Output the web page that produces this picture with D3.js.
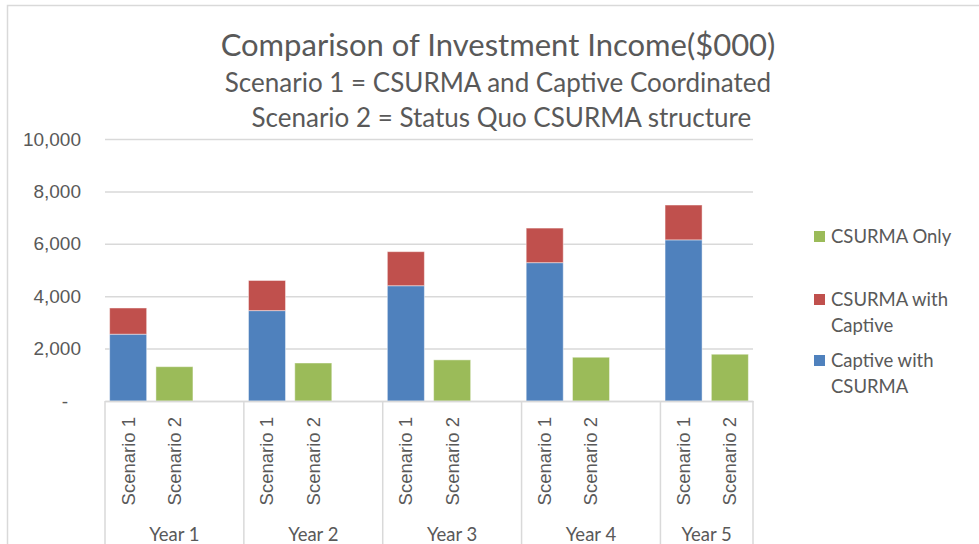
<!DOCTYPE html>
<html>
<head>
<meta charset="utf-8">
<script src="https://cdn.jsdelivr.net/npm/d3@7"></script>
<style>
  body { margin: 0; background: #fff; }
  svg { font-family: Lato, "Open Sans", sans-serif; }
</style>
</head>
<body>
<svg id="chart" width="979" height="544"></svg>
<script>
// values in $000
var years = ["Year 1", "Year 2", "Year 3", "Year 4", "Year 5"];
var scenarios = ["Scenario 1", "Scenario 2"];
var captiveWithCsurma = [2550, 3450, 4400, 5280, 6150];
var csurmaWithCaptive = [1000, 1150, 1300, 1320, 1330];
var csurmaOnly = [1310, 1450, 1570, 1670, 1785];
var yTicks = [0, 2000, 4000, 6000, 8000, 10000];

var titleLines = [
  "Comparison of Investment Income($000)",
  "Scenario 1 = CSURMA and Captive Coordinated",
  " Scenario 2 = Status Quo CSURMA structure"
];
var legendItems = [
  {name: ["CSURMA Only"], color: "#9BBB59"},
  {name: ["CSURMA with", "Captive"], color: "#C0504D"},
  {name: ["Captive with", "CSURMA"], color: "#4F81BD"}
];

var svg = d3.select("#chart");
var textColor = "#595959";
var gridColor = "#d9d9d9";

// chart area border (cut off right and bottom)
svg.append("path")
  .attr("d", "M7.5,544 V5.5 H979")
  .attr("fill", "none")
  .attr("stroke", gridColor)
  .attr("stroke-width", 1.5);

// slot keys: each year gets two scenarios and an empty slot, except the last
var slots = [];
years.forEach(function(yr, i){
  scenarios.forEach(function(sc){ slots.push(yr + "|" + sc); });
  if (i < years.length - 1) slots.push(yr + "|");
});

var x = d3.scaleBand()
  .domain(slots)
  .range([105, 753])
  .paddingInner(0.2)
  .paddingOuter(0.1);

var y = d3.scaleLinear()
  .domain([0, 10000])
  .range([401, 139]);

// gridlines + y labels
var yAxis = svg.append("g")
  .attr("transform", "translate(105,0)")
  .call(d3.axisLeft(y)
    .tickValues(yTicks)
    .tickSize(-648)
    .tickPadding(24)
    .tickFormat(function(d){ return d == 0 ? "-" : d3.format(",")(d); }));
yAxis.select(".domain").remove();
yAxis.selectAll(".tick line")
  .attr("stroke", gridColor)
  .attr("stroke-width", 1.5);
yAxis.selectAll(".tick text")
  .attr("fill", textColor)
  .style("font-size", "19px");
yAxis.selectAll(".tick")
  .filter(function(d){ return d == 0; })
  .select("text").attr("dx", -13);

// bars
var stacked = [];
years.forEach(function(yr, i){
  stacked.push({key: yr + "|Scenario 1", y0: 0, y1: captiveWithCsurma[i], color: "#4F81BD"});
  stacked.push({key: yr + "|Scenario 1", y0: captiveWithCsurma[i], y1: captiveWithCsurma[i] + csurmaWithCaptive[i], color: "#C0504D"});
  stacked.push({key: yr + "|Scenario 2", y0: 0, y1: csurmaOnly[i], color: "#9BBB59"});
});

svg.append("g").selectAll("rect")
  .data(stacked)
  .enter()
  .append("rect")
    .attr("x", function(d){ return x(d.key); })
    .attr("width", x.bandwidth())
    .attr("y", function(d){ return y(d.y1); })
    .attr("height", function(d){ return y(d.y0) - y(d.y1); })
    .attr("fill", function(d){ return d.color; })
    .attr("stroke", "#ffffff")
    .attr("stroke-opacity", 0.45)
    .attr("stroke-width", 1);

// category axis
var xAxis = svg.append("g")
  .attr("transform", "translate(0,401)")
  .call(d3.axisBottom(x)
    .tickSize(0)
    .tickFormat(function(d){ return d.split("|")[1]; }));
xAxis.select(".domain")
  .attr("stroke", gridColor)
  .attr("stroke-width", 1.5);
xAxis.selectAll(".tick text")
  .attr("fill", textColor)
  .style("font-size", "18.5px")
  .attr("transform", "rotate(-90)")
  .attr("text-anchor", "end")
  .attr("x", -16)
  .attr("y", 0)
  .attr("dy", "0.35em");

// group separators and year labels
var bounds = [105];
years.forEach(function(yr){
  var end = x(yr + "|") != undefined ? x(yr + "|") + x.bandwidth() + x.step() * x.paddingInner() / 2 : 753;
  bounds.push(end);
});

svg.append("g").selectAll("line")
  .data(bounds)
  .enter()
  .append("line")
    .attr("x1", function(d){ return d; })
    .attr("x2", function(d){ return d; })
    .attr("y1", 401)
    .attr("y2", 544)
    .attr("stroke", gridColor)
    .attr("stroke-width", 1.5);

svg.append("g").selectAll("text")
  .data(years)
  .enter()
  .append("text")
    .attr("x", function(d, i){ return (bounds[i] + bounds[i + 1]) / 2; })
    .attr("y", 541)
    .attr("text-anchor", "middle")
    .attr("fill", textColor)
    .style("font-size", "18.5px")
    .text(function(d){ return d; });

// title
svg.append("text")
  .attr("x", 498)
  .attr("y", 56)
  .attr("text-anchor", "middle")
  .attr("fill", textColor)
  .style("font-size", "31px")
  .text(titleLines[0]);

svg.selectAll(".subtitle")
  .data(titleLines.slice(1))
  .enter()
  .append("text")
    .attr("class", "subtitle")
    .attr("x", 498)
    .attr("y", function(d, i){ return 92 + i * 35; })
    .attr("text-anchor", "middle")
    .attr("fill", textColor)
    .style("font-size", "26px")
    .style("white-space", "pre")
    .text(function(d){ return d; });

// legend
var legendY = [237, 300, 361];
var legend = svg.append("g");
legendItems.forEach(function(item, i){
  var g = legend.append("g").attr("transform", "translate(814," + legendY[i] + ")");
  g.append("rect")
    .attr("x", 0)
    .attr("y", -6)
    .attr("width", 11)
    .attr("height", 11)
    .attr("fill", item.color);
  item.name.forEach(function(line, j){
    g.append("text")
      .attr("x", 17)
      .attr("y", j * 25.5)
      .attr("dy", "0.35em")
      .attr("fill", textColor)
      .style("font-size", "18.5px")
      .text(line);
  });
});
</script>
</body>
</html>
